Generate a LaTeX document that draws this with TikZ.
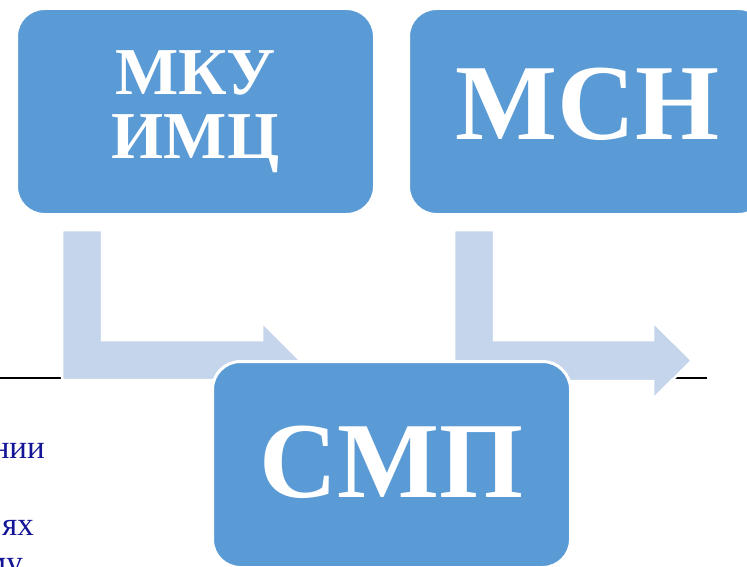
\documentclass[tikz,border=0pt]{standalone}
\usepackage{fontspec}
\setmainfont{Liberation Serif}
\definecolor{boxblue}{HTML}{5B9BD5}
\definecolor{arrowblue}{HTML}{C5D5EB}
\definecolor{textblue}{RGB}{20,20,150}
\tikzset{
  unitbox/.style={draw=white, line width=3pt, fill=boxblue, rounded corners=28pt,
    minimum width=358pt, minimum height=206pt, inner sep=0pt, text=white,
    font=\bfseries\fontsize{108}{108}\selectfont, align=center},
  smallbox/.style={font=\bfseries\fontsize{67}{64}\selectfont},
  blockarrow/.style={fill=arrowblue, draw=white, line width=2.5pt, line join=miter},
  sidetext/.style={text=textblue, font=\fontsize{33}{36}\selectfont, inner sep=0pt, anchor=base east}
}
\begin{document}
\begin{tikzpicture}[x=1pt,y=-1pt]
\useasboundingbox (0,0) rectangle (747,567);
\clip (0,0) rectangle (747,567);
% background line
\draw[line width=2pt] (0,378) coordinate (ls) -- (707,378) coordinate (le);
% left text fragments
\node[sidetext] (t1) at (45,458) {нии};
\node[sidetext] (t2) at (34,535) {ях};
\node[sidetext] (t3) at (23,573) {му};
% block arrows
\draw[blockarrow] (62,230) -- (102,230) -- (102,340) -- (262,340) -- (262,322) -- (300,360) -- (262,398) -- (262,380) -- (62,380) -- cycle;
\draw[blockarrow] (454,230) -- (494,230) -- (494,340) -- (653,340) -- (653,322) -- (692,360.5) -- (653,399) -- (653,381) -- (454,381) -- cycle;
% boxes
\node[unitbox, smallbox] (mku) at (195.5,111.5) {МКУ\\ИМЦ};
\node[unitbox, text height=72pt, text depth=16pt] (msn) at (587.5,111.5) {МСН};
\node[unitbox, text height=72pt, text depth=7pt] (smp) at (391.5,464.5) {СМП};
\end{tikzpicture}
\end{document}
